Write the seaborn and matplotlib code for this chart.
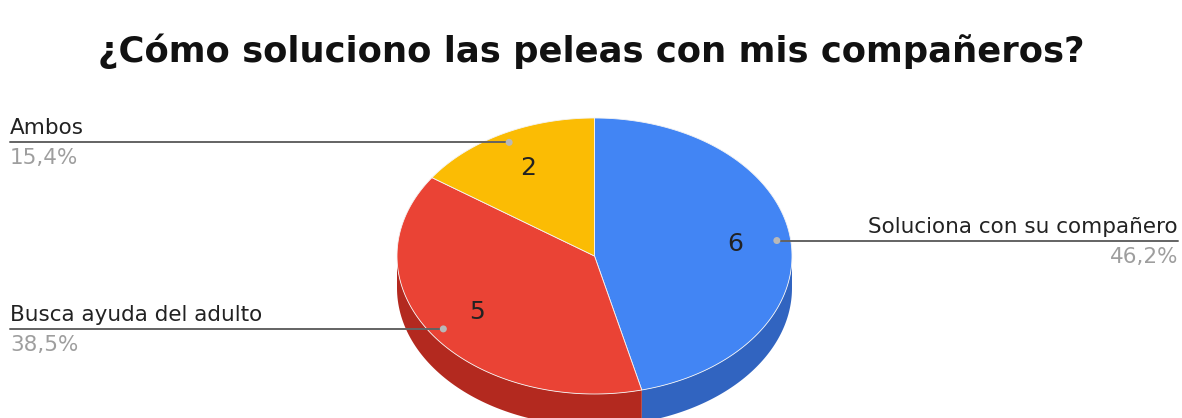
import numpy as np
import pandas as pd
import matplotlib
matplotlib.use("Agg")
import matplotlib.pyplot as plt
import seaborn as sns
from matplotlib.patches import Polygon, Circle

# data
categories = ["Soluciona con su compañero", "Busca ayuda del adulto", "Ambos"]
counts = [6, 5, 2]
title = "¿Cómo soluciono las peleas con mis compañeros?"

top_colors = ["#4285f4", "#ea4335", "#fbbc04"]
side_colors = ["#3164c0", "#b3291f", "#c2900a"]

df = pd.DataFrame({"categoria": categories, "n": counts})
df["pct"] = df["n"] / df["n"].sum()
df["end"] = df["pct"].cumsum() * 360
df["start"] = df["end"] - df["pct"] * 360
df["mid"] = (df["start"] + df["end"]) / 2

# pie geometry in pixels (angles clockwise from 12 o'clock)
cx, cy, rx, ry, depth = 594.5, 256, 197.5, 138, 32


def pt(t, frac=1.0, dy=0.0):
    t = np.radians(t)
    return cx + rx * frac * np.sin(t), cy - ry * frac * np.cos(t) + dy


sns.set_theme(style="white")
plt.rcParams["font.family"] = ["DejaVu Sans"]

fig = plt.figure(figsize=(11.82, 4.18), dpi=100)
ax = fig.add_axes([0, 0, 1, 1])
ax.set_xlim(0, 1182)
ax.set_ylim(418, 0)
ax.axis("off")

# side walls (front half only)
for i, row in df.iterrows():
    a, b = max(row["start"], 90), min(row["end"], 270)
    if a >= b:
        continue
    ts = np.linspace(a, b, 80)
    upper = [pt(t) for t in ts]
    lower = [pt(t, dy=depth) for t in ts[::-1]]
    ax.add_patch(Polygon(upper + lower, closed=True, facecolor=side_colors[i],
                         edgecolor="none", zorder=1))

# top faces
for i, row in df.iterrows():
    ts = np.linspace(row["start"], row["end"], 120)
    verts = [(cx, cy)] + [pt(t) for t in ts]
    ax.add_patch(Polygon(verts, closed=True, facecolor=top_colors[i],
                         edgecolor="#f4f4f4", linewidth=0.6, zorder=2))

# values inside slices, leader lines and labels
for i, row in df.iterrows():
    vx, vy = pt(row["mid"], 0.72)
    ax.text(vx, vy, str(row["n"]), ha="center", va="center", fontsize=18,
            color="#222222", zorder=3)

    dx, dy = pt(row["mid"], 0.93)
    pct_txt = f"{row['pct'] * 100:.1f}%".replace(".", ",")
    ax.add_patch(Circle((dx, dy), 3.5, facecolor="#b8b8b8", edgecolor="none", zorder=4))
    if np.sin(np.radians(row["mid"])) > 0:
        x_end, ha = 1178, "right"
    else:
        x_end, ha = 10, "left"
    ax.plot([dx, x_end], [dy, dy], color="#636363", linewidth=1.4, zorder=3)
    ax.text(x_end, dy - 8, row["categoria"], ha=ha, va="baseline", fontsize=15.5,
            color="#222222")
    ax.text(x_end, dy + 22, pct_txt, ha=ha, va="baseline", fontsize=15.5,
            color="#9e9e9e")

ax.text(591, 62, title, ha="center", va="baseline", fontsize=25.5,
        fontweight="bold", color="#111111")

fig.savefig("out.png", dpi=100)
